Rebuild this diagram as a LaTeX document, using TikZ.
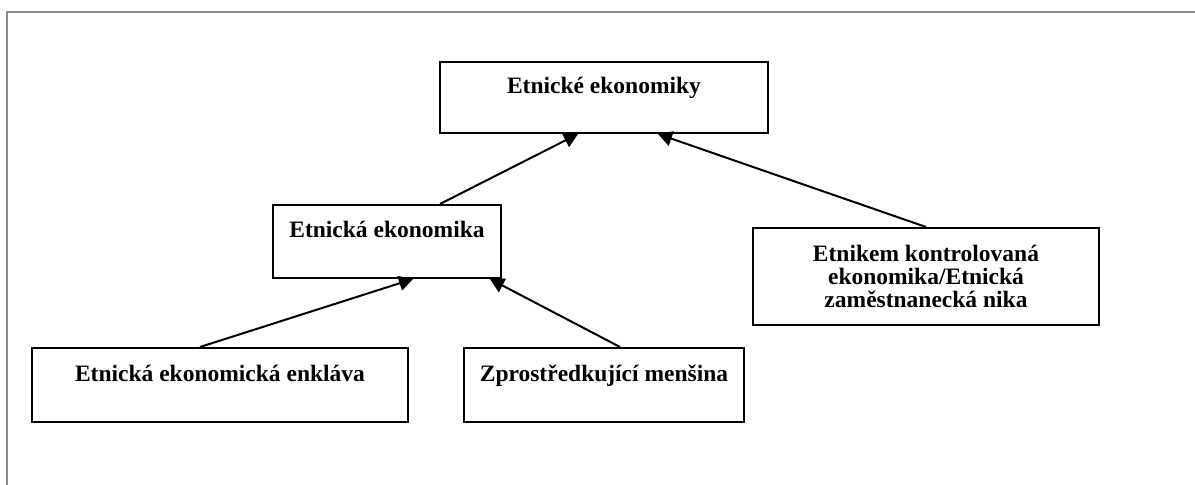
\documentclass[tikz,border=0pt]{standalone}
\usepackage{fontspec}
\setmainfont{Liberation Serif}
\usetikzlibrary{arrows.meta,calc}
\tikzset{
  box/.style={draw=black, line width=1pt, fill=white, inner sep=0pt, anchor=north west},
  txt/.style={font=\fontsize{11.75}{11.5}\selectfont\bfseries, align=center, inner sep=0pt, anchor=north},
  arr/.style={line width=1pt, -{Triangle[length=7pt,width=7.5pt]}},
  frame/.style={draw=gray!90, line width=1pt}
}
\begin{document}
\begin{tikzpicture}[x=0.5pt,y=-0.5pt]
\useasboundingbox (0,0) rectangle (1195,485);
\draw[frame] (7,485) -- (7,12) -- (1195,12);
% boxes
\node[box, minimum width=328*0.5pt, minimum height=71*0.5pt] (t) at (439,61) {};
\node[txt] (tt) at ($(t.north)+(0,16)$) {Etnické ekonomiky};
\node[box, minimum width=228*0.5pt, minimum height=73*0.5pt] (m) at (272,204) {};
\node[txt] (mt) at ($(m.north)+(0,17)$) {Etnická ekonomika};
\node[box, minimum width=346*0.5pt, minimum height=97*0.5pt] (r) at (752,227) {};
\node[txt] (rt) at ($(r.north)+(0,18)$) {Etnikem kontrolovaná\\ekonomika/Etnická\\zaměstnanecká nika};
\node[box, minimum width=376*0.5pt, minimum height=74*0.5pt] (bl) at (31,347) {};
\node[txt] (blt) at ($(bl.north)+(0,18)$) {Etnická ekonomická enkláva};
\node[box, minimum width=280*0.5pt, minimum height=74*0.5pt] (bm) at (463,347) {};
\node[txt] (bmt) at ($(bm.north)+(0,18)$) {Zprostředkující menšina};
% arrows
\draw[arr] ($(m.north west)+(168,0)$) -- ($(t.south west)+(139,0)$);
\draw[arr] (r.north) -- ($(t.south west)+(219,0)$);
\draw[arr] ($(bl.north west)+(169,0)$) -- ($(m.south west)+(141,0)$);
\draw[arr] ($(bm.north west)+(157,0)$) -- ($(m.south west)+(218,0)$);
\end{tikzpicture}
\end{document}
